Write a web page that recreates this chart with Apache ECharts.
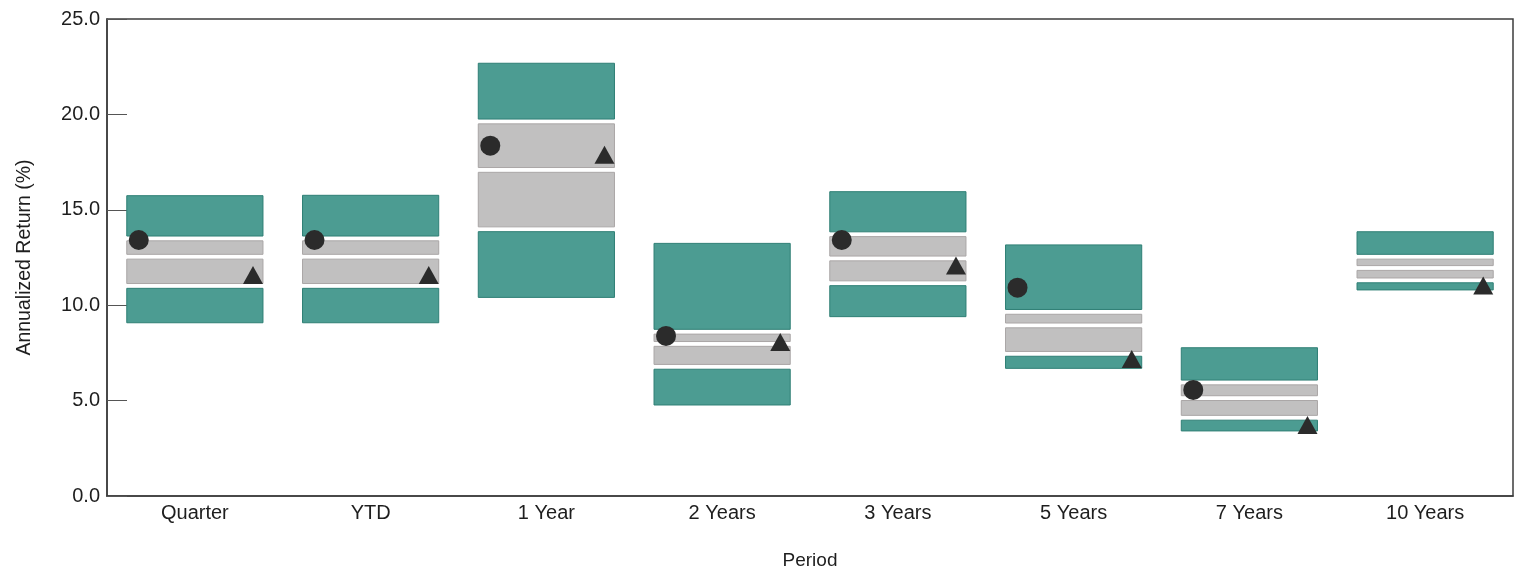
<!DOCTYPE html>
<html>
<head>
<meta charset="utf-8">
<script src="https://cdn.jsdelivr.net/npm/echarts@6/dist/echarts.min.js"></script>
<style>
  html, body { margin: 0; padding: 0; background: #fff; }
  #chart { width: 1520px; height: 573px; }
</style>
</head>
<body>
<div id="chart"></div>
<script>
// Universe percentile ranges by period (annualized return, %)
const periods = ['Quarter', 'YTD', '1 Year', '2 Years', '3 Years', '5 Years', '7 Years', '10 Years'];
const p95 = [15.74, 15.76, 22.68, 13.24, 15.95, 13.16, 7.77, 13.85];
const p75 = [13.50, 13.50, 19.63,  8.61, 13.72,  9.65, 5.95, 12.54];
const p50 = [12.54, 12.54, 17.09,  7.97, 12.45,  8.94, 5.13, 11.95];
const p25 = [11.01, 11.01, 13.98,  6.77, 11.15,  7.45, 4.10, 11.30];
const p5  = [ 9.08,  9.08, 10.41,  4.77,  9.40,  6.69, 3.41, 10.80];
// Portfolio (circle) and benchmark (triangle) returns
const portfolio = [13.42, 13.42, 18.36, 8.39, 13.42, 10.92, 5.56, null];
const benchmark = [11.58, 11.58, 17.88, 8.07, 12.08,  7.18, 3.72, 11.03];
const yTicks = { min: 0, max: 25, interval: 5 };

const TEAL = '#4c9c92';
const TEAL_EDGE = '#2f7f75';
const GRAY = '#c1c0c0';
const GRAY_EDGE = '#aaa6a6';
const MARK = '#2b2b2b';
const FONT = 'Liberation Sans, Arial, sans-serif';

const BAR_RATIO = 0.775;   // bar width as share of category band
const HALF_GAP = 2.4;      // white gap around each percentile break, px

const rangeData = periods.map((p, i) => [i, p5[i], p25[i], p50[i], p75[i], p95[i]]);

function renderRange(params, api) {
  const idx = api.value(0);
  const vals = [api.value(1), api.value(2), api.value(3), api.value(4), api.value(5)];
  const cx = api.coord([idx, 0])[0];
  const w = api.size([1, 0])[0] * BAR_RATIO;
  const x0 = cx - w / 2;
  const ys = vals.map(v => api.coord([idx, v])[1]);
  const children = [];
  for (let k = 0; k < 4; k++) {
    // ys[k] is the lower value (larger pixel y), ys[k+1] the upper
    let bottom = ys[k];
    let top = ys[k + 1];
    if (k > 0) bottom -= HALF_GAP;
    if (k < 3) top += HALF_GAP;
    const outer = (k === 0 || k === 3);
    children.push({
      type: 'rect',
      shape: { x: x0, y: top, width: w, height: Math.max(0, bottom - top) },
      style: {
        fill: outer ? TEAL : GRAY,
        stroke: outer ? TEAL_EDGE : GRAY_EDGE,
        lineWidth: 1
      }
    });
  }
  return { type: 'group', children: children };
}

const chart = echarts.init(document.getElementById('chart'), null, { renderer: 'canvas' });

// category band in px, used to place markers at the bar edges
const plotLeft = 107, plotRight = 7;
const band = (1520 - plotLeft - plotRight) / periods.length;
const barHalf = band * BAR_RATIO / 2;

chart.setOption({
  animation: false,
  backgroundColor: '#ffffff',
  grid: {
    left: plotLeft, right: plotRight, top: 19, bottom: 77,
    outerBoundsMode: 'none',
    containLabel: false,
    show: true, borderColor: '#3c3c3c', borderWidth: 1.5, backgroundColor: 'transparent'
  },
  xAxis: {
    type: 'category',
    data: periods,
    boundaryGap: true,
    name: 'Period',
    nameLocation: 'middle',
    nameGap: 55,
    nameTextStyle: { fontFamily: FONT, fontSize: 19, color: '#1e1e1e' },
    axisLine: { show: true, lineStyle: { color: '#3c3c3c', width: 1.5 } },
    axisTick: { show: false },
    axisLabel: { fontFamily: FONT, fontSize: 20, color: '#1e1e1e', margin: 7 },
    splitLine: { show: false }
  },
  yAxis: {
    type: 'value',
    min: yTicks.min, max: yTicks.max, interval: yTicks.interval,
    name: 'Annualized Return (%)',
    nameLocation: 'middle',
    nameGap: 72,
    nameTextStyle: { fontFamily: FONT, fontSize: 19.5, color: '#1e1e1e' },
    axisLine: { show: true, lineStyle: { color: '#3c3c3c', width: 1.5 } },
    axisTick: { show: true, inside: true, length: 20, lineStyle: { color: '#555', width: 1 } },
    axisLabel: {
      fontFamily: FONT, fontSize: 20, color: '#1e1e1e', margin: 7,
      formatter: v => v.toFixed(1)
    },
    splitLine: { show: false }
  },
  series: [
    {
      type: 'custom',
      name: 'Percentile range',
      renderItem: renderRange,
      encode: { x: 0, y: [1, 2, 3, 4, 5] },
      data: rangeData,
      z: 2
    },
    {
      type: 'scatter',
      name: 'Portfolio',
      data: portfolio,
      symbol: 'circle',
      symbolSize: 20,
      symbolOffset: [-(barHalf - 12), 0],
      itemStyle: { color: MARK, opacity: 1 },
      z: 5
    },
    {
      type: 'scatter',
      name: 'Benchmark',
      data: benchmark,
      symbol: 'triangle',
      symbolSize: [20, 18],
      symbolOffset: [barHalf - 10, 0],
      itemStyle: { color: MARK, opacity: 1 },
      z: 5
    }
  ]
});
</script>
</body>
</html>
